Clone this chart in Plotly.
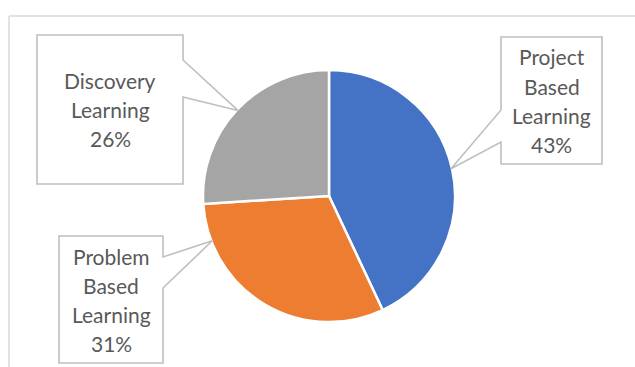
import math
import plotly.graph_objects as go

categories = ["Project Based Learning", "Problem Based Learning", "Discovery Learning"]
values = [43, 31, 26]
colors = ["#4472C4", "#ED7D31", "#A5A5A5"]
label_lines = [["Project", "Based", "Learning"], ["Problem", "Based", "Learning"], ["Discovery", "Learning"]]

W, H = 635, 367
CX, CY, R = 329, 196, 126  # pie center/radius in pixels


def px(x, y):
    return x / W, 1 - y / H


fig = go.Figure(go.Pie(
    labels=categories, values=values, sort=False, direction="clockwise", rotation=0,
    marker=dict(colors=colors, line=dict(color="white", width=2.5)),
    textinfo="none", hoverinfo="label+percent", showlegend=False,
    domain=dict(x=[(CX - R) / W, (CX + R) / W], y=[1 - (CY + R) / H, 1 - (CY - R) / H]),
))

total = sum(values)
cum = 0
mid_angles = []
for v in values:
    mid = (cum + v / 2) / total * 360
    mid_angles.append(90 - mid)
    cum += v
mid_angles[1] = -159  # Excel places this leader off-centre

boxes = [
    ((501, 37, 602, 164), "left", (110, 142)),
    ((59, 236, 163, 363), "right", (257, 288)),
    ((37, 35, 183, 184), "right", (60, 97)),
]

shapes = []
annotations = []
pcts = [round(v / total * 100) for v in values]
for i, ((l, t, r, b), side, (ty1, ty2)) in enumerate(boxes):
    a = math.radians(mid_angles[i])
    tipx, tipy = CX + (R - 1) * math.cos(a), CY - (R - 1) * math.sin(a)
    if side == "right":
        pts = [(l, t), (r, t), (r, ty1), (tipx, tipy), (r, ty2), (r, b), (l, b)]
    else:
        pts = [(l, t), (r, t), (r, b), (l, b), (l, ty2), (tipx, tipy), (l, ty1)]
    path = "M " + " L ".join("%f,%f" % px(x, y) for x, y in pts) + " Z"
    shapes.append(dict(type="path", xref="paper", yref="paper", path=path,
                       line=dict(color="#BFBFBF", width=1.6), fillcolor="white", layer="above"))
    lines = label_lines[i] + ["%d%%" % pcts[i]]
    n = len(lines)
    cyb = (t + b) / 2
    sp = 29
    for k, txt in enumerate(lines):
        yy = cyb + (k - (n - 1) / 2) * sp
        xx, yp = px((l + r) / 2, yy)
        annotations.append(dict(x=xx, y=yp, xref="paper", yref="paper", text=txt, showarrow=False,
                                xanchor="center", yanchor="middle",
                                font=dict(family="Lato, Open Sans, sans-serif", size=21, color="#595959")))

# outer chart border (top and left visible)
shapes.append(dict(type="line", xref="paper", yref="paper", x0=px(9, 16)[0], y0=px(9, 16)[1],
                   x1=px(640, 16)[0], y1=px(640, 16)[1], line=dict(color="#D9D9D9", width=1.5), layer="below"))
shapes.append(dict(type="line", xref="paper", yref="paper", x0=px(9, 16)[0], y0=px(9, 16)[1],
                   x1=px(9, 370)[0], y1=px(9, 370)[1], line=dict(color="#D9D9D9", width=1.5), layer="below"))

fig.update_layout(
    width=W, height=H, margin=dict(l=0, r=0, t=0, b=0),
    paper_bgcolor="white", plot_bgcolor="white",
    shapes=shapes, annotations=annotations,
)
fig.write_html("out.html")
